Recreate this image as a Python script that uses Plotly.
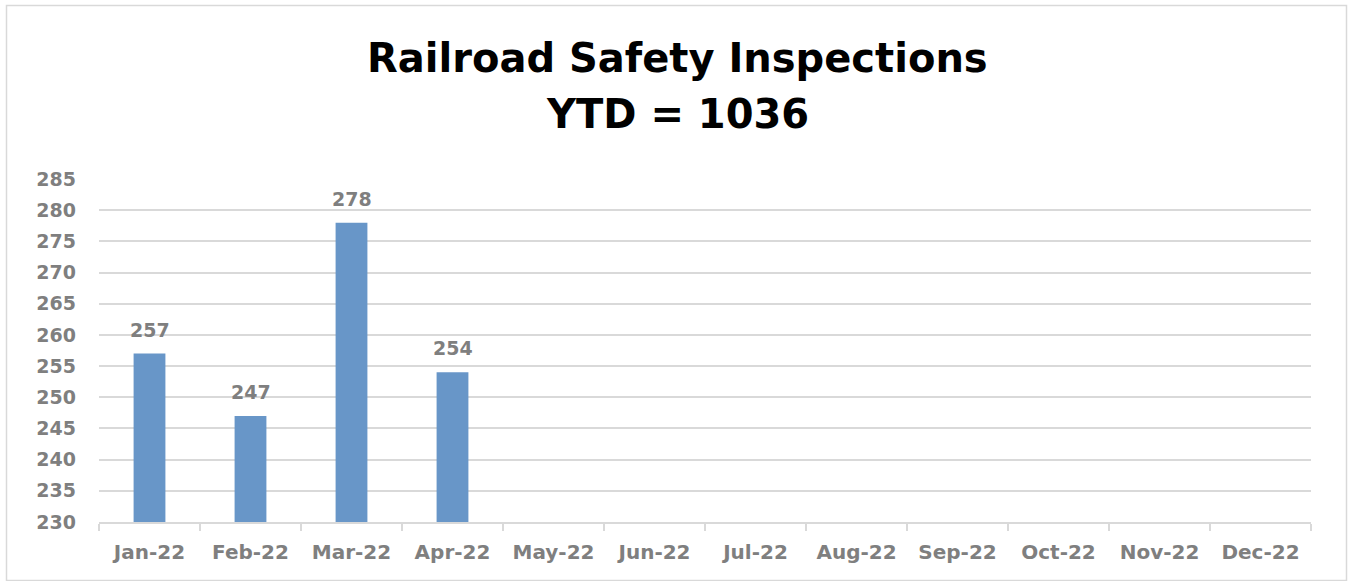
import plotly.graph_objects as go

months = ["Jan-22", "Feb-22", "Mar-22", "Apr-22", "May-22", "Jun-22",
          "Jul-22", "Aug-22", "Sep-22", "Oct-22", "Nov-22", "Dec-22"]
inspections = [257, 247, 278, 254, None, None, None, None, None, None, None, None]
ytd_total = 1036
title_line1 = "Railroad Safety Inspections"
title_line2 = "YTD = " + str(ytd_total)
y_min, y_max, y_step = 230, 285, 5

FONT = "DejaVu Sans"
GRAY = "#7f7f7f"
BAR = "#6896c8"
GRID = "#d9d9d9"

W, H = 1350, 581
L, R, T, B = 99, 39, 179, 59
pw, ph = W - L - R, H - T - B

def px(x):
    return (x - L) / pw

def py(y):
    return (H - B - y) / ph

fig = go.Figure()
fig.add_trace(go.Bar(x=months, y=inspections, marker_color=BAR,
                     marker_line_width=0, hoverinfo="x+y"))

for m, v in zip(months, inspections):
    if v is not None:
        fig.add_annotation(x=m, y=v, text=f"<b>{v}</b>", showarrow=False,
                           yanchor="bottom", yshift=11,
                           font=dict(family=FONT, size=19, color=GRAY))

fig.add_annotation(xref="paper", yref="paper", x=px(677), y=py(58),
                   text=f"<b>{title_line1}</b>", showarrow=False,
                   xanchor="center", yanchor="middle",
                   font=dict(family=FONT, size=40, color="black"))
fig.add_annotation(xref="paper", yref="paper", x=px(677), y=py(114),
                   text=f"<b>{title_line2}</b>", showarrow=False,
                   xanchor="center", yanchor="middle",
                   font=dict(family=FONT, size=40, color="black"))

fig.add_shape(type="rect", xref="paper", yref="paper",
              x0=px(6.5), x1=px(1346.5), y0=py(580.5), y1=py(5.5),
              line=dict(color=GRID, width=1.5), layer="below")

fig.update_layout(
    width=W, height=H,
    margin=dict(l=L, r=R, t=T, b=B),
    paper_bgcolor="white", plot_bgcolor="white",
    showlegend=False,
    bargap=0.685,
    xaxis=dict(type="category", categoryorder="array", categoryarray=months,
               showgrid=False, showline=True, linecolor=GRID, linewidth=1.5,
               ticks="outside", tickson="boundaries", ticklen=7, tickcolor=GRID,
               tickwidth=1.5, ticklabelstandoff=11,
               tickfont=dict(family=FONT, size=20, color=GRAY, weight="bold"),
               range=[-0.5, 11.5]),
    yaxis=dict(range=[y_min, y_max], dtick=y_step, tick0=y_min,
               showgrid=True, gridcolor=GRID, gridwidth=1.5,
               zeroline=False, showline=False, ticks="",
               ticklabelstandoff=22,
               tickfont=dict(family=FONT, size=19, color=GRAY, weight="bold")),
)

fig.write_html("out.html", config={"displayModeBar": False},
               post_script="document.body.style.margin='0px';")
